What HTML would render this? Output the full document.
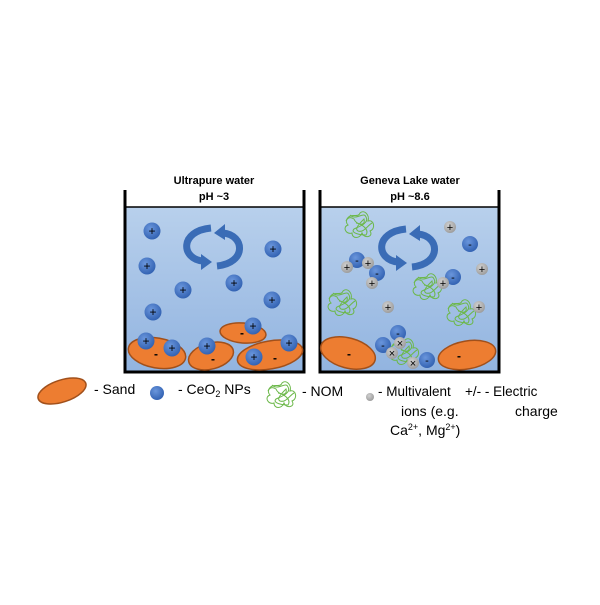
<!DOCTYPE html>
<html><head><meta charset="utf-8"><style>
html,body{margin:0;padding:0;background:#fff;}
svg text{font-family:"Liberation Sans",sans-serif;}
</style></head><body>
<svg width="600" height="600" viewBox="0 0 600 600" xmlns="http://www.w3.org/2000/svg">
<defs>
<radialGradient id="np" cx="40%" cy="35%" r="70%"><stop offset="0" stop-color="#6a96dc"/><stop offset="1" stop-color="#2f5fb0"/></radialGradient>
<radialGradient id="gi" cx="40%" cy="35%" r="70%"><stop offset="0" stop-color="#d0d0d0"/><stop offset="1" stop-color="#9a9a9a"/></radialGradient>
<linearGradient id="water" x1="0" y1="0" x2="0" y2="1"><stop offset="0" stop-color="#b8d0ec"/><stop offset="1" stop-color="#92b4e0"/></linearGradient>
<g id="nom" fill="none" stroke="#6cb84a" stroke-width="1">
<path d="M-14,-4 C-10,-14 -2,-6 0,-12 C4,-16 10,-10 8,-4 C14,-6 16,4 10,6 C14,12 4,14 2,8 C0,14 -8,14 -8,8 C-14,10 -18,2 -12,0 C-16,-4 -12,-10 -6,-6 C-4,0 6,2 4,-6 C0,-2 -6,4 -2,6 C4,8 8,0 12,-2"/>
<path d="M-10,-10 C-4,-4 4,-14 6,-8 C10,-2 -2,2 -6,4 C-10,8 0,10 6,10 C10,4 0,-2 -4,-2"/>
</g>
<g id="arrows" fill="none" stroke="#3a6cb6" stroke-width="7">
<path d="M-2,-19 C-34,-16 -32,12 -10,14"/>
<path d="M4,19 C34,16 32,-12 10,-14"/>
<polygon points="-12,7 -1,15 -12,23" fill="#3a6cb6" stroke="none"/>
<polygon points="12,-23 1,-14 12,-7" fill="#3a6cb6" stroke="none"/>
</g>
</defs>

<!-- Left beaker -->
<text x="214" y="184" font-size="11" font-weight="bold" text-anchor="middle">Ultrapure water</text>
<text x="214" y="200" font-size="11" font-weight="bold" text-anchor="middle">pH ~3</text>
<rect x="125" y="207" width="179" height="165" fill="url(#water)"/>
<path d="M125,190 V372 H304 V190" fill="none" stroke="#000" stroke-width="3"/>
<line x1="125" y1="207" x2="304" y2="207" stroke="#000" stroke-width="1.5"/>
<use href="#arrows" x="213" y="247"/>
<g fill="#ed7d31" stroke="#a1501b" stroke-width="1.5">
<ellipse cx="157" cy="353" rx="29" ry="15" transform="rotate(10 157 353)"/>
<ellipse cx="211" cy="356" rx="23" ry="13" transform="rotate(-15 211 356)"/>
<ellipse cx="243" cy="333" rx="23" ry="10" transform="rotate(5 243 333)"/>
<ellipse cx="270" cy="355" rx="33" ry="14" transform="rotate(-10 270 355)"/>
</g>
<g font-size="12" font-weight="bold" text-anchor="middle">
<text x="156" y="358">-</text><text x="213" y="363">-</text><text x="242" y="337">-</text><text x="275" y="362">-</text>
</g>
<g fill="url(#np)">
<circle cx="152" cy="231" r="8.5"/><circle cx="273" cy="249" r="8.5"/><circle cx="147" cy="266" r="8.5"/>
<circle cx="183" cy="290" r="8.5"/><circle cx="234" cy="283" r="8.5"/><circle cx="272" cy="300" r="8.5"/>
<circle cx="153" cy="312" r="8.5"/><circle cx="146" cy="341" r="8.5"/><circle cx="172" cy="348" r="8.5"/>
<circle cx="207" cy="346" r="8.5"/><circle cx="253" cy="326" r="8.5"/><circle cx="289" cy="343" r="8.5"/>
<circle cx="254" cy="357" r="8.5"/>
</g>
<g font-size="12" text-anchor="middle">
<text x="152" y="235">+</text><text x="273" y="253">+</text><text x="147" y="270">+</text>
<text x="183" y="294">+</text><text x="234" y="287">+</text><text x="272" y="304">+</text>
<text x="153" y="316">+</text><text x="146" y="345">+</text><text x="172" y="352">+</text>
<text x="207" y="350">+</text><text x="253" y="330">+</text><text x="289" y="347">+</text>
<text x="254" y="361">+</text>
</g>

<!-- Right beaker -->
<text x="410" y="184" font-size="11" font-weight="bold" text-anchor="middle">Geneva Lake water</text>
<text x="410" y="200" font-size="11" font-weight="bold" text-anchor="middle">pH ~8.6</text>
<rect x="320" y="207" width="179" height="165" fill="url(#water)"/>
<path d="M320,190 V372 H499 V190" fill="none" stroke="#000" stroke-width="3"/>
<line x1="320" y1="207" x2="499" y2="207" stroke="#000" stroke-width="1.5"/>
<use href="#arrows" x="408" y="248"/>
<g fill="#ed7d31" stroke="#a1501b" stroke-width="1.5">
<ellipse cx="348" cy="353" rx="28" ry="15" transform="rotate(15 348 353)"/>
<ellipse cx="467" cy="355" rx="29" ry="14" transform="rotate(-10 467 355)"/>
</g>
<g font-size="12" font-weight="bold" text-anchor="middle"><text x="349" y="358">-</text><text x="459" y="360">-</text></g>
<use href="#nom" x="360" y="225"/><use href="#nom" x="428" y="287"/><use href="#nom" x="343" y="303"/>
<use href="#nom" x="462" y="313"/><use href="#nom" x="405" y="352"/>
<g fill="url(#np)">
<circle cx="357" cy="260" r="8"/><circle cx="377" cy="273" r="8"/><circle cx="470" cy="244" r="8"/>
<circle cx="453" cy="277" r="8"/><circle cx="398" cy="333" r="8"/><circle cx="383" cy="345" r="8"/>
<circle cx="427" cy="360" r="8"/>
</g>
<g fill="url(#gi)">
<circle cx="450" cy="227" r="6"/><circle cx="347" cy="267" r="6"/><circle cx="368" cy="263" r="6"/>
<circle cx="372" cy="283" r="6"/><circle cx="482" cy="269" r="6"/><circle cx="443" cy="283" r="6"/>
<circle cx="388" cy="307" r="6"/><circle cx="479" cy="307" r="6"/><circle cx="400" cy="343" r="6"/>
<circle cx="392" cy="353" r="6"/><circle cx="413" cy="363" r="6"/>
</g>
<g font-size="11" text-anchor="middle">
<text x="357" y="264">-</text><text x="377" y="277">-</text><text x="470" y="248">-</text><text x="453" y="281">-</text>
<text x="398" y="337">-</text><text x="383" y="349">-</text><text x="427" y="364">-</text>
<text x="450" y="231">+</text><text x="347" y="271">+</text><text x="368" y="267">+</text><text x="372" y="287">+</text>
<text x="482" y="273">+</text><text x="443" y="287">+</text><text x="388" y="311">+</text><text x="479" y="311">+</text>
<text x="400" y="347">×</text><text x="392" y="357">×</text><text x="413" y="367">×</text>
</g>

<!-- Legend -->
<ellipse cx="62" cy="391" rx="25" ry="11" transform="rotate(-18 62 391)" fill="#ed7d31" stroke="#a1501b" stroke-width="1.5"/>
<text x="94" y="394" font-size="14">- Sand</text>
<circle cx="157" cy="393" r="7" fill="url(#np)"/>
<text x="178" y="394" font-size="14">- CeO<tspan font-size="9" dy="3">2</tspan><tspan dy="-3"> NPs</tspan></text>
<use href="#nom" x="282" y="395"/>
<text x="302" y="396" font-size="14">- NOM</text>
<circle cx="370" cy="397" r="4" fill="url(#gi)"/>
<text x="378" y="396" font-size="13.5">- Multivalent</text>
<text x="401" y="416" font-size="14">ions (e.g.</text>
<text x="390" y="435" font-size="14">Ca<tspan font-size="9" dy="-5">2+</tspan><tspan dy="5">, Mg</tspan><tspan font-size="9" dy="-5">2+</tspan><tspan dy="5">)</tspan></text>
<text x="465" y="396" font-size="13.5">+/- - Electric</text>
<text x="515" y="416" font-size="14">charge</text>
</svg>
</body></html>
